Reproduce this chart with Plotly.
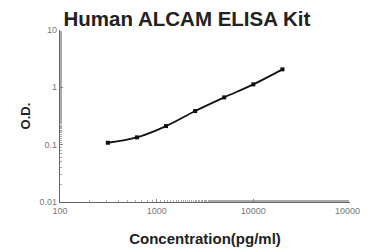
import plotly.graph_objects as go

conc = [312.5, 625, 1250, 2500, 5000, 10000, 20000]
od = [0.108, 0.134, 0.211, 0.386, 0.668, 1.127, 2.06]
x_ticks = [100, 1000, 10000, 100000]
x_tick_labels = ["100", "1000", "10000", "100000"]
y_ticks = [0.01, 0.1, 1, 10]
y_tick_labels = ["0.01", "0.1", "1", "10"]

fig = go.Figure()
fig.add_trace(go.Scatter(
    x=conc, y=od, mode="lines+markers",
    line=dict(color="#111", width=1.8, shape="spline"),
    marker=dict(color="#111", size=4, symbol="square"),
    showlegend=False,
))

axis_common = dict(
    showgrid=False, zeroline=False, showline=True, linecolor="#666", linewidth=1.2,
    ticks="inside", ticklen=3, tickcolor="#888",
    tickfont=dict(family="Arial, Liberation Sans", size=9, color="#777"),
    minor=dict(ticks="inside", ticklen=2, tickcolor="#aaa", showgrid=False),
    automargin=False,
)

fig.update_xaxes(type="log", range=[2, 5], tickvals=x_ticks, ticktext=x_tick_labels,
                 title=dict(text="<b>Concentration(pg/ml)</b>", font=dict(family="Arial, Liberation Sans", size=15, color="#222"), standoff=18),
                 **axis_common)
fig.update_yaxes(type="log", range=[-2, 1], tickvals=y_ticks, ticktext=y_tick_labels,
                 title=dict(text="<b>O.D.</b>", font=dict(family="Arial, Liberation Sans", size=13, color="#222"), standoff=6),
                 **axis_common)

# page body adds an 8px offset; layout coordinates compensate for it
fig.update_layout(
    width=360, height=244,
    margin=dict(l=52, r=18, t=22, b=50, autoexpand=False),
    paper_bgcolor="white", plot_bgcolor="white",
    title=dict(text="<b>Human ALCAM ELISA Kit</b>", x=0.497, xanchor="center", y=0.955, yanchor="middle",
               font=dict(family="Arial, Liberation Sans", size=20.5, color="#222"), automargin=False),
)

fig.write_html("out.html")
